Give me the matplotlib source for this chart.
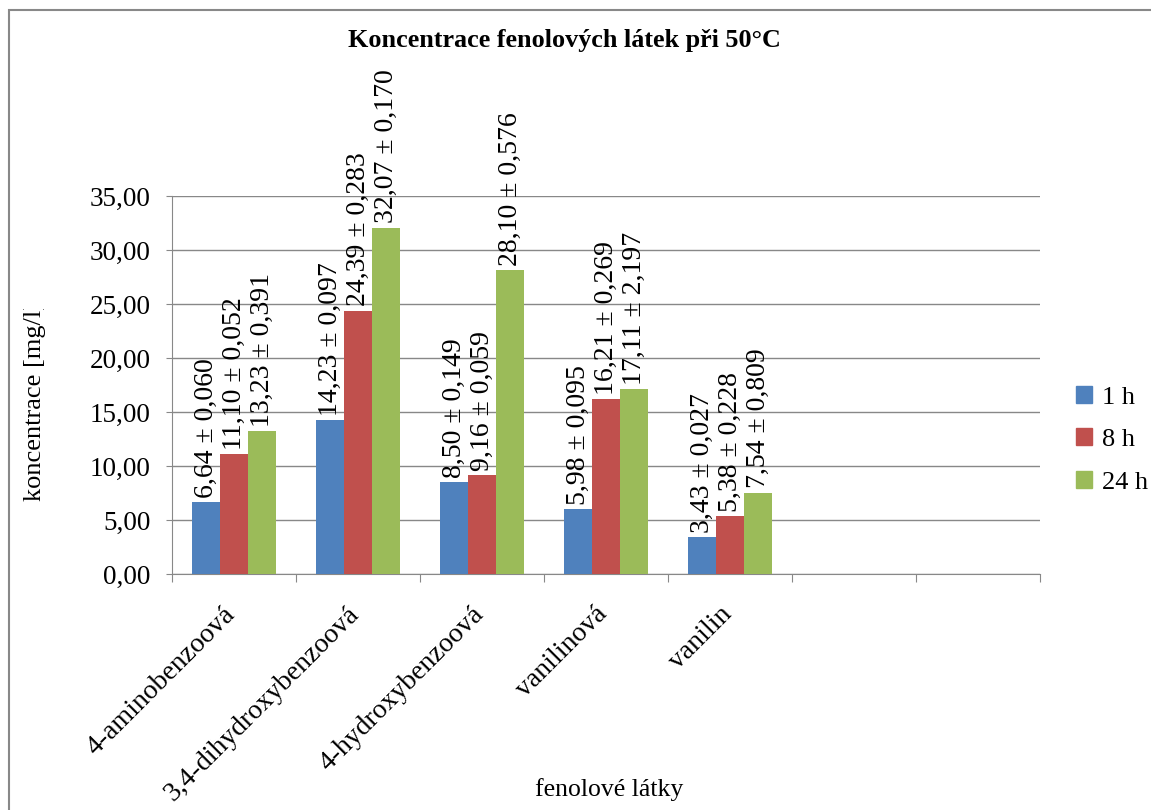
import numpy as np
import matplotlib
matplotlib.use("Agg")
import matplotlib.pyplot as plt
from matplotlib.patches import Rectangle, Patch

plt.rcParams['font.family'] = ['Liberation Serif', 'DejaVu Serif']

categories = ['4-aminobenzoová', '3,4-dihydroxybenzoová', '4-hydroxybenzoová',
              'vanilinová', 'vanilin']
series = ['1 h', '8 h', '24 h']
values_1h = [6.64, 14.23, 8.50, 5.98, 3.43]
values_8h = [11.10, 24.39, 9.16, 16.21, 5.38]
values_24h = [13.23, 32.07, 28.10, 17.11, 7.54]
err_1h = ['0,060', '0,097', '0,149', '0,095', '0,027']
err_8h = ['0,052', '0,283', '0,059', '0,269', '0,228']
err_24h = ['0,391', '0,170', '0,576', '2,197', '0,809']
colors = ['#4F81BD', '#C0504D', '#9BBB59']
n_slots = 7

fig = plt.figure(figsize=(11.51, 8.10), dpi=100)
ax = fig.add_axes([0.1494, 0.2914, 0.7542, 0.4667])

x = np.arange(len(categories))
w = 0.226
for i, (vals, errs) in enumerate(zip([values_1h, values_8h, values_24h],
                                     [err_1h, err_8h, err_24h])):
    pos = x + (i - 1) * w
    ax.bar(pos, vals, width=w, color=colors[i], zorder=3)
    for p, v, e in zip(pos, vals, errs):
        lab = ('%.2f' % v).replace('.', ',') + ' \u00b1 ' + e
        ax.annotate(lab, (p, v), xytext=(0, 3), textcoords='offset points',
                    rotation=90, ha='center', va='bottom', fontsize=20,
                    annotation_clip=False)

ax.set_xlim(-0.5, n_slots - 0.5)
ax.set_ylim(0, 35)
yt = np.arange(0, 36, 5)
ax.set_yticks(yt)
ax.set_yticklabels([('%.2f' % t).replace('.', ',') for t in yt], fontsize=19.5)
ax.yaxis.grid(True, color='#888888', lw=1, zorder=0)

# tick marks sit on the category boundaries, names are placed by hand
ax.set_xticks(np.arange(-0.5, n_slots, 1.0))
ax.set_xticklabels([])
for xi, name in zip(x, categories):
    ax.annotate(name, (xi, 0), xycoords=('data', 'axes fraction'),
                xytext=(-8, -20), textcoords='offset points',
                rotation=45, ha='right', va='top', rotation_mode='anchor',
                fontsize=20, annotation_clip=False)
ax.tick_params(axis='x', length=6, color='#888888')
ax.tick_params(axis='y', length=4.5, pad=11, color='#888888')

for s in ['top', 'right']:
    ax.spines[s].set_visible(False)
for s in ['left', 'bottom']:
    ax.spines[s].set_color('#888888')

fig.text(0.490, 0.95, 'Koncentrace fenolových látek při 50°C',
         ha='center', va='center', fontsize=18.8, fontweight='bold')
fig.text(0.529, 0.025, 'fenolové látky', ha='center', va='center', fontsize=18.5)
ylab = fig.text(0.03, 0.505, 'koncentrace [mg/l]', ha='center', va='center',
                rotation=90, fontsize=19)
ylab.set_clip_path(Rectangle((0, 0), 1, 0.618, transform=fig.transFigure))

handles = [Patch(color=c) for c in colors]
fig.legend(handles, series, loc='center left', bbox_to_anchor=(0.914, 0.457),
           frameon=False, fontsize=19, handlelength=0.6, handleheight=0.6,
           handletextpad=0.4, labelspacing=0.75)

fig.patches.append(Rectangle((0.008, -0.01), 1.1, 0.998, transform=fig.transFigure,
                             fill=False, edgecolor='#888888', lw=1.5))

fig.savefig('out.png', dpi=100)
